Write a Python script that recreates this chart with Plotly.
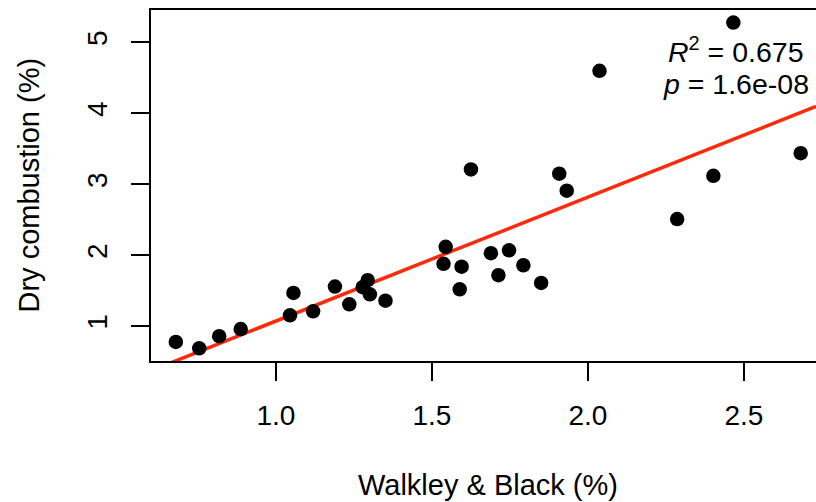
import numpy as np
import plotly.graph_objects as go

# Data
walkley_black = [0.679, 0.754, 0.818, 0.887, 1.056, 1.045, 1.119, 1.189, 1.235, 1.278,
                 1.294, 1.301, 1.351, 1.544, 1.537, 1.595, 1.589, 1.625, 2.037, 2.466,
                 1.908, 1.932, 1.689, 1.747, 1.713, 1.793, 1.850, 2.286, 2.402, 2.682]
dry_combustion = [0.78, 0.69, 0.86, 0.96, 1.47, 1.155, 1.21, 1.56, 1.31, 1.55,
                  1.65, 1.45, 1.36, 2.12, 1.88, 1.84, 1.52, 3.21, 4.60, 5.28,
                  3.15, 2.91, 2.03, 2.07, 1.72, 1.86, 1.61, 2.51, 3.12, 3.44]
x_ticks = [1.0, 1.5, 2.0, 2.5]
x_tick_labels = ["1.0", "1.5", "2.0", "2.5"]
y_ticks = [1, 2, 3, 4, 5]
y_tick_labels = ["1", "2", "3", "4", "5"]
r_squared_text = "<i>R</i><sup>2</sup> = 0.675"
p_value_text = "<i>p</i> = 1.6e-08"

x_range = [0.5994, 2.731]
y_range = [0.5106, 5.457]

x = np.array(walkley_black)
y = np.array(dry_combustion)
slope, intercept = np.polyfit(x, y, 1)
line_x = np.array(x_range)
line_y = intercept + slope * line_x

FONT = "Liberation Sans, Arial, Helvetica, sans-serif"

fig = go.Figure()
fig.add_trace(go.Scatter(
    x=line_x, y=line_y, mode="lines",
    line=dict(color="#ff2a0a", width=3.5), hoverinfo="skip", showlegend=False))
fig.add_trace(go.Scatter(
    x=walkley_black, y=dry_combustion, mode="markers",
    marker=dict(color="black", size=14.5, line=dict(width=0)), showlegend=False))

fig.update_layout(
    width=816, height=502,
    margin=dict(l=151, r=0, t=10, b=141.3),
    paper_bgcolor="white", plot_bgcolor="white",
    font=dict(family=FONT, color="black"),
    xaxis=dict(range=x_range, tickvals=x_ticks, ticktext=x_tick_labels,
               ticks="outside", ticklen=18, tickwidth=1.5, tickcolor="black",
               ticklabelstandoff=11,
               showline=True, linecolor="black", linewidth=1.5, mirror=True,
               showgrid=False, zeroline=False,
               tickfont=dict(family=FONT, size=28, color="black")),
    yaxis=dict(range=y_range, tickvals=y_ticks, ticktext=y_tick_labels,
               tickangle=-90, ticklabelstandoff=13,
               ticks="outside", ticklen=18, tickwidth=1.5, tickcolor="black",
               showline=True, linecolor="black", linewidth=1.5, mirror=False,
               showgrid=False, zeroline=False,
               tickfont=dict(family=FONT, size=28, color="black")),
    annotations=[
        dict(text="Walkley & Black (%)", xref="paper", yref="paper",
             x=0.5068, y=0, yanchor="middle", xanchor="center", yshift=-124,
             showarrow=False, font=dict(family=FONT, size=29, color="black")),
        dict(text="Dry combustion (%)", xref="paper", yref="paper",
             x=0, y=0.5, xanchor="center", yanchor="middle", xshift=-123,
             textangle=-90,
             showarrow=False, font=dict(family=FONT, size=29, color="black")),
        dict(text=r_squared_text, xref="paper", yref="paper",
             x=0.985, y=1, xanchor="right", yanchor="middle", yshift=-40,
             showarrow=False, font=dict(family=FONT, size=28.5, color="black")),
        dict(text=p_value_text, xref="paper", yref="paper",
             x=0.993, y=1, xanchor="right", yanchor="middle", yshift=-74,
             showarrow=False, font=dict(family=FONT, size=28.5, color="black")),
    ],
)

fig.write_html("out.html", config={"displayModeBar": False},
               post_script="document.body.style.margin='0';document.body.style.overflow='hidden';")
